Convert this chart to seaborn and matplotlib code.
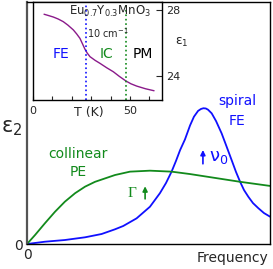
import numpy as np
import pandas as pd
import matplotlib
matplotlib.use("Agg")
import matplotlib.pyplot as plt
import seaborn as sns

# main panel: eps2 vs frequency (arbitrary units)
freq_blue = [0.0, 0.074, 0.156, 0.239, 0.307, 0.362, 0.396, 0.451, 0.506, 0.547, 0.572,
             0.595, 0.613, 0.630, 0.650, 0.671, 0.687, 0.704, 0.716, 0.726, 0.736, 0.745,
             0.760, 0.778, 0.801, 0.819, 0.842, 0.860, 0.877, 0.893, 0.911, 0.930, 0.952,
             0.975, 1.0]
eps2_blue = [0.0, 0.0095, 0.0165, 0.0277, 0.0413, 0.0607, 0.0744, 0.106, 0.154, 0.21, 0.252,
             0.299, 0.343, 0.388, 0.432, 0.49, 0.526, 0.55, 0.558, 0.561, 0.56, 0.555,
             0.54, 0.508, 0.457, 0.409, 0.347, 0.298, 0.257, 0.223, 0.195, 0.169, 0.148,
             0.128, 0.113]

freq_green = [0.0, 0.033, 0.074, 0.115, 0.156, 0.198, 0.239, 0.28, 0.321, 0.362, 0.424,
              0.506, 0.595, 0.671, 0.774, 0.877, 1.0]
eps2_green = [0.0, 0.037, 0.086, 0.133, 0.175, 0.21, 0.237, 0.257, 0.271, 0.285, 0.299,
              0.303, 0.299, 0.289, 0.273, 0.257, 0.24]

# inset: eps1 vs T at 10 cm-1
temp = [5.7, 8.0, 10.5, 13.0, 15.6, 18.0, 20.8, 22.5, 24.2, 25.5, 26.8, 28.0, 29.4,
        32.0, 34.5, 38.0, 41.4, 44.5, 47.9, 50.5, 53.5, 58.0, 62.4]
eps1 = [27.74, 27.66, 27.57, 27.45, 27.29, 27.08, 26.79, 26.55, 26.28, 25.95, 25.62,
        25.38, 25.17, 24.95, 24.77, 24.5, 24.26, 23.98, 23.70, 23.53, 23.39, 23.23, 23.11]
t_fe_ic = 27.3
t_ic_pm = 47.9

sns.set_theme(style="white")
plt.rcParams["font.family"] = ["DejaVu Sans"]

fig = plt.figure(figsize=(2.73, 2.69), dpi=100)
ax = fig.add_axes([27 / 273, 25 / 269, 243 / 273, 242 / 269])

blue = "#1010ff"
green = "#128a1c"
purple = "#8a1a8a"

main_b = pd.DataFrame({"f": freq_blue, "e": eps2_blue})
main_g = pd.DataFrame({"f": freq_green, "e": eps2_green})
sns.lineplot(data=main_b, x="f", y="e", color=blue, lw=1.3, ax=ax)
sns.lineplot(data=main_g, x="f", y="e", color=green, lw=1.3, ax=ax)

ax.set_xlim(0, 1.0)
ax.set_ylim(0, 1.0)
ax.set_xticks([0])
ax.set_yticks([0])
ax.set_xticklabels(["0"], fontsize=10)
ax.set_yticklabels(["0"], fontsize=10)
ax.tick_params(length=0, pad=3)
ax.set_xlabel("")
ax.set_ylabel("")
for s in ax.spines.values():
    s.set_color("black")
    s.set_linewidth(1.0)
ax.spines["left"].set_color("#555555")
ax.spines["left"].set_linewidth(1.6)

ax.text(-0.065, 0.48, "ε$_2$", fontsize=15, ha="center", va="center", transform=ax.transAxes)
ax.text(0.995, -0.058, "Frequency", fontsize=10, ha="right", va="center", transform=ax.transAxes)
ax.text(0.866, 0.59, "spiral", color=blue, fontsize=10, ha="center", va="center")
ax.text(0.866, 0.509, "FE", color=blue, fontsize=10, ha="center", va="center")
ax.text(0.211, 0.372, "collinear", color=green, fontsize=10, ha="center", va="center")
ax.text(0.211, 0.299, "PE", color=green, fontsize=10, ha="center", va="center")

ax.annotate("", xy=(0.486, 0.25), xytext=(0.486, 0.175),
            arrowprops=dict(arrowstyle="-|>", color=green, lw=1.2, mutation_scale=7))
ax.text(0.43, 0.21, "Γ", color=green, fontsize=11, ha="center", va="center",
        family=["Liberation Serif"])
ax.annotate("", xy=(0.724, 0.4), xytext=(0.724, 0.32),
            arrowprops=dict(arrowstyle="-|>", color=blue, lw=1.2, mutation_scale=7))
ax.text(0.79, 0.36, "ν$_0$", color=blue, fontsize=13, ha="center", va="center")

# inset
ins = fig.add_axes([33 / 273, 169 / 269, 129 / 273, 98 / 269])
ins_df = pd.DataFrame({"T": temp, "e1": eps1})
sns.lineplot(data=ins_df, x="T", y="e1", color=purple, lw=1.0, ax=ins)
ins.axvline(t_fe_ic, color=blue, ls=":", lw=1.2)
ins.axvline(t_ic_pm, color=green, ls=":", lw=1.2)
ins.set_xlim(0, 66.5)
ins.set_ylim(22.55, 28.48)
ins.set_xticks([0, 10, 20, 30, 40, 50, 60])
ins.set_xticklabels(["0", "", "", "", "", "50", ""], fontsize=8)
ins.yaxis.tick_right()
ins.set_yticks([24, 28])
ins.set_yticklabels(["24", "28"], fontsize=8)
ins.tick_params(axis="x", direction="in", length=3, width=0.8, pad=4, bottom=True)
ins.tick_params(axis="y", direction="in", length=4, width=0.8, pad=3, right=True, left=False)
ins.set_xlabel("")
ins.set_ylabel("")
for s in ins.spines.values():
    s.set_color("black")
    s.set_linewidth(1.0)

ins.text(29, -0.13, "T (K)", fontsize=9, ha="center", va="center",
         transform=ins.get_xaxis_transform())
ins.text(1.155, 0.585, "ε$_1$", fontsize=9, ha="center", va="center", transform=ins.transAxes)
ins.text(0.6, 0.9, "Eu$_{0.7}$Y$_{0.3}$MnO$_3$", fontsize=8.5, ha="center", va="center",
         transform=ins.transAxes)
ins.text(0.58, 0.685, "10 cm$^{-1}$", fontsize=7, ha="center", va="center",
         transform=ins.transAxes)
ins.text(0.22, 0.47, "FE", color=blue, fontsize=10, ha="center", va="center", transform=ins.transAxes)
ins.text(0.57, 0.47, "IC", color=green, fontsize=10, ha="center", va="center", transform=ins.transAxes)
ins.text(0.855, 0.47, "PM", color="black", fontsize=10, ha="center", va="center", transform=ins.transAxes)

fig.savefig("out.png", dpi=100)
